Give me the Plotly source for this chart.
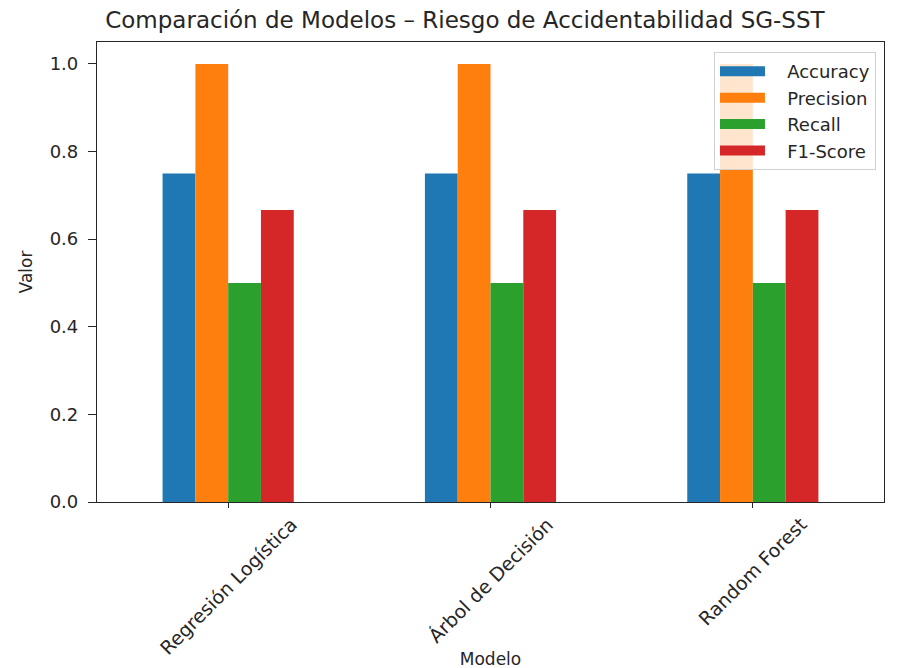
import plotly.graph_objects as go

modelos = ["Regresión Logística", "Árbol de Decisión", "Random Forest"]
metricas = ["Accuracy", "Precision", "Recall", "F1-Score"]
accuracy = [0.75, 0.75, 0.75]
precision = [1.0, 1.0, 1.0]
recall = [0.5, 0.5, 0.5]
f1_score = [0.6667, 0.6667, 0.6667]
colores = ["#1f77b4", "#ff7f0e", "#2ca02c", "#d62728"]

series = [accuracy, precision, recall, f1_score]
fnt = "DejaVu Sans"
txt = "#262626"

fig = go.Figure()
for name, vals, col in zip(metricas, series, colores):
    fig.add_trace(go.Bar(x=list(range(len(modelos))), y=vals, name=name, showlegend=False,
                         marker=dict(color=col, line=dict(width=0)), width=0.125))
# legend entries drawn as wide rectangles
for name, col in zip(metricas, colores):
    fig.add_trace(go.Scatter(x=[None], y=[None], mode="lines", name="\u00a0\u00a0\u00a0" + name,
                             line=dict(color=col, width=11), showlegend=True))

for i, m in enumerate(modelos):
    fig.add_annotation(x=i, y=0, xref="x", yref="paper", yshift=-8, text=m,
                       textangle=-45, xanchor="center", yanchor="top", showarrow=False,
                       font=dict(family=fnt, size=19, color=txt))

fig.update_layout(
    width=903, height=668,
    margin=dict(l=89, r=27, t=34, b=174),
    paper_bgcolor="white", plot_bgcolor="white",
    barmode="group", bargap=0.5, bargroupgap=0,
    font=dict(family=fnt, color=txt),
    title=dict(text="Comparación de Modelos – Riesgo de Accidentabilidad SG-SST",
               x=0.506, xanchor="center", y=1 - 12 / 668, yanchor="middle",
               font=dict(family=fnt, size=23, color=txt)),
    xaxis=dict(range=[-0.5, 2.5], tickvals=list(range(len(modelos))), ticktext=[""] * 3,
               showgrid=False, zeroline=False, showline=True, linecolor=txt, linewidth=1.2,
               mirror=True, ticks="outside", ticklen=5, tickcolor=txt,
               title=dict(text="Modelo", font=dict(family=fnt, size=17), standoff=143)),
    yaxis=dict(range=[0, 1.05], tickvals=[0, 0.2, 0.4, 0.6, 0.8, 1.0], tickformat=".1f",
               showgrid=False, zeroline=False, showline=True, linecolor=txt, linewidth=1.2,
               mirror=True, ticks="outside", ticklen=8, tickcolor=txt, ticklabelstandoff=6,
               tickfont=dict(family=fnt, size=18),
               title=dict(text="Valor", font=dict(family=fnt, size=17), standoff=12)),
    legend=dict(x=0.9898, y=0.978, xanchor="right", yanchor="top",
                bgcolor="rgba(255,255,255,0.8)", bordercolor="#d0d0d0", borderwidth=1,
                font=dict(family=fnt, size=18, color=txt), itemwidth=45, tracegroupgap=0),
    showlegend=True,
)

fig.write_html("out.html")
